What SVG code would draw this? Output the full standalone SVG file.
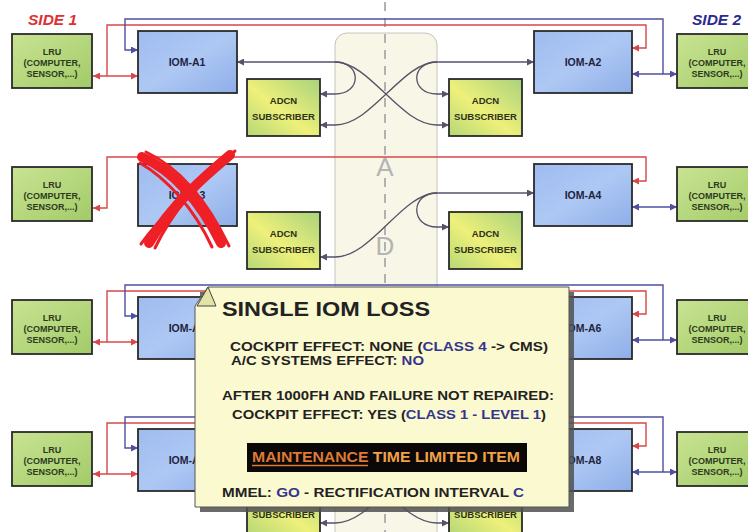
<svg xmlns="http://www.w3.org/2000/svg" width="748" height="532" viewBox="0 0 748 532">
<defs>
<style>
.t{font-family:"Liberation Sans",Arial,sans-serif;font-weight:bold;}
.box{stroke:#2a2a2a;stroke-width:1.8;}
.lru{fill:url(#gLRU);}
.iom{fill:url(#gIOM);}
.adcn{fill:url(#gADCN);}
.lt{font-size:9px;fill:#2e3a20;text-anchor:middle;}
.it{font-size:10.5px;fill:#1e2440;text-anchor:middle;}
.at{font-size:9.5px;fill:#2e3218;text-anchor:middle;}
.r{fill:none;stroke:#d84848;stroke-width:1.4;}
.b{fill:none;stroke:#4f4fa0;stroke-width:1.4;}
.d{fill:none;stroke:#5a5068;stroke-width:1.3;}
.ct{fill:#222;}
.cb{fill:#35358c;}
</style>
<linearGradient id="gLRU" x1="0" y1="0" x2="1" y2="1">
<stop offset="0" stop-color="#c9e393"/><stop offset="1" stop-color="#a2cb68"/>
</linearGradient>
<linearGradient id="gIOM" x1="0" y1="0" x2="1" y2="1">
<stop offset="0" stop-color="#9fbcf0"/><stop offset="0.5" stop-color="#aec8f4"/><stop offset="1" stop-color="#8eaee8"/>
</linearGradient>
<linearGradient id="gADCN" x1="0" y1="1" x2="1" y2="0">
<stop offset="0" stop-color="#b6d777"/><stop offset="0.45" stop-color="#eef07a"/><stop offset="1" stop-color="#a9d27c"/>
</linearGradient>
<marker id="ar" viewBox="0 0 8 8" refX="8" refY="4" markerWidth="7" markerHeight="7" markerUnits="userSpaceOnUse" orient="auto-start-reverse"><path d="M0,0 L8,4 L0,8 z" fill="#d84848"/></marker>
<marker id="ab" viewBox="0 0 8 8" refX="8" refY="4" markerWidth="7" markerHeight="7" markerUnits="userSpaceOnUse" orient="auto-start-reverse"><path d="M0,0 L8,4 L0,8 z" fill="#4f4fa0"/></marker>
<marker id="ad" viewBox="0 0 8 8" refX="8" refY="4" markerWidth="7" markerHeight="7" markerUnits="userSpaceOnUse" orient="auto-start-reverse"><path d="M0,0 L8,4 L0,8 z" fill="#5a5068"/></marker>
</defs>
<rect width="748" height="532" fill="#ffffff"/>

<g id="center-panel">
<rect x="335" y="33" width="102" height="530" rx="12" fill="#f8f6e6" stroke="#c4c4bc" stroke-width="1"/>
<line x1="385" y1="2" x2="385" y2="532" stroke="#b2b2b2" stroke-width="2" stroke-dasharray="9 7"/>
<text class="t" x="385" y="176" font-size="26" fill="#b4b4b4" text-anchor="middle" stroke="#f8f6e6" stroke-width="4" paint-order="stroke" style="font-weight:normal">A</text>
<text class="t" x="385" y="255" font-size="26" fill="#b4b4b4" text-anchor="middle" stroke="#f8f6e6" stroke-width="4" paint-order="stroke" style="font-weight:normal">D</text>
</g>

<g id="connectors">
<!-- row 1 -->
<path class="r" d="M93,76 H138" marker-start="url(#ar)" marker-end="url(#ar)"/>
<path class="r" d="M107,76 V25 H646 V48 H632" marker-end="url(#ar)"/>
<path class="b" d="M632,74 H677" marker-start="url(#ab)" marker-end="url(#ab)"/>
<path class="b" d="M663,74 V19 H125 V50 H138" marker-end="url(#ab)"/>
<path class="d" d="M335,62 H237" marker-end="url(#ad)"/>
<path class="d" d="M335,62 C362,62 362,94 335,94 H320" marker-end="url(#ad)"/>
<path class="d" d="M335,62 C370,62 400,125 437,125 H449" marker-end="url(#ad)"/>
<path class="d" d="M437,62 H534" marker-end="url(#ad)"/>
<path class="d" d="M437,62 C410,62 410,94 437,94 H449" marker-end="url(#ad)"/>
<path class="d" d="M437,62 C402,62 372,125 335,125 H320" marker-end="url(#ad)"/>
<!-- row 2 -->
<path class="r" d="M93,208 H107 V157 H646 V181 H632" marker-start="url(#ar)" marker-end="url(#ar)"/>
<path class="b" d="M632,207 H677" marker-start="url(#ab)" marker-end="url(#ab)"/>
<path class="d" d="M437,193 H534" marker-end="url(#ad)"/>
<path class="d" d="M437,193 C410,193 410,227 437,227 H449" marker-end="url(#ad)"/>
<path class="d" d="M437,193 C402,193 372,257 335,257 H320" marker-end="url(#ad)"/>
<!-- row 3 -->
<path class="r" d="M93,342 H138" marker-start="url(#ar)" marker-end="url(#ar)"/>
<path class="r" d="M107,342 V291 H646 V314 H632" marker-end="url(#ar)"/>
<path class="b" d="M632,340 H677" marker-start="url(#ab)" marker-end="url(#ab)"/>
<path class="b" d="M663,340 V285 H125 V316 H138" marker-end="url(#ab)"/>
<!-- row 4 -->
<path class="r" d="M93,474 H138" marker-start="url(#ar)" marker-end="url(#ar)"/>
<path class="r" d="M107,474 V423 H646 V446 H632" marker-end="url(#ar)"/>
<path class="b" d="M632,472 H677" marker-start="url(#ab)" marker-end="url(#ab)"/>
<path class="b" d="M663,472 V417 H125 V448 H138" marker-end="url(#ab)"/>
<path class="d" d="M335,460 C362,460 362,492 335,492 H320" marker-end="url(#ad)"/>
<path class="d" d="M335,460 C370,460 400,523 437,523 H449" marker-end="url(#ad)"/>
<path class="d" d="M437,460 C410,460 410,492 437,492 H449" marker-end="url(#ad)"/>
<path class="d" d="M437,460 C402,460 372,523 335,523 H320" marker-end="url(#ad)"/>
</g>

<g id="lru-l1"><rect class="box lru" x="12" y="34" width="80" height="54"/><text class="t lt" x="52" y="55">LRU</text><text class="t lt" x="52" y="66">(COMPUTER,</text><text class="t lt" x="52" y="77">SENSOR,...)</text></g>
<g id="iom-a1"><rect class="box iom" x="138" y="31" width="99" height="62"/><text class="t it" x="187" y="66">IOM-A1</text></g>
<g id="adcn-l1"><rect class="box adcn" x="247" y="79" width="73" height="57"/><text class="t at" x="283.5" y="104">ADCN</text><text class="t at" x="283.5" y="120">SUBSCRIBER</text></g>
<g id="adcn-r1"><rect class="box adcn" x="449" y="79" width="73" height="57"/><text class="t at" x="485.5" y="104">ADCN</text><text class="t at" x="485.5" y="120">SUBSCRIBER</text></g>
<g id="iom-a2"><rect class="box iom" x="534" y="31" width="98" height="62"/><text class="t it" x="583" y="66">IOM-A2</text></g>
<g id="lru-r1"><rect class="box lru" x="677" y="34" width="80" height="54"/><text class="t lt" x="717" y="55">LRU</text><text class="t lt" x="717" y="66">(COMPUTER,</text><text class="t lt" x="717" y="77">SENSOR,...)</text></g>

<g id="lru-l2"><rect class="box lru" x="12" y="167" width="80" height="54"/><text class="t lt" x="52" y="188">LRU</text><text class="t lt" x="52" y="199">(COMPUTER,</text><text class="t lt" x="52" y="210">SENSOR,...)</text></g>
<g id="iom-a3"><rect class="box iom" x="138" y="164" width="99" height="62"/><text class="t it" x="187" y="199">IOM-A3</text></g>
<g id="adcn-l2"><rect class="box adcn" x="247" y="212" width="73" height="57"/><text class="t at" x="283.5" y="237">ADCN</text><text class="t at" x="283.5" y="253">SUBSCRIBER</text></g>
<g id="adcn-r2"><rect class="box adcn" x="449" y="212" width="73" height="57"/><text class="t at" x="485.5" y="237">ADCN</text><text class="t at" x="485.5" y="253">SUBSCRIBER</text></g>
<g id="iom-a4"><rect class="box iom" x="534" y="164" width="98" height="62"/><text class="t it" x="583" y="199">IOM-A4</text></g>
<g id="lru-r2"><rect class="box lru" x="677" y="167" width="80" height="54"/><text class="t lt" x="717" y="188">LRU</text><text class="t lt" x="717" y="199">(COMPUTER,</text><text class="t lt" x="717" y="210">SENSOR,...)</text></g>

<g id="lru-l3"><rect class="box lru" x="12" y="300" width="80" height="54"/><text class="t lt" x="52" y="321">LRU</text><text class="t lt" x="52" y="332">(COMPUTER,</text><text class="t lt" x="52" y="343">SENSOR,...)</text></g>
<g id="iom-a5"><rect class="box iom" x="138" y="297" width="99" height="62"/><text class="t it" x="187" y="332">IOM-A5</text></g>
<g id="iom-a6"><rect class="box iom" x="534" y="297" width="98" height="62"/><text class="t it" x="583" y="332">IOM-A6</text></g>
<g id="lru-r3"><rect class="box lru" x="677" y="300" width="80" height="54"/><text class="t lt" x="717" y="321">LRU</text><text class="t lt" x="717" y="332">(COMPUTER,</text><text class="t lt" x="717" y="343">SENSOR,...)</text></g>

<g id="lru-l4"><rect class="box lru" x="12" y="432" width="80" height="54"/><text class="t lt" x="52" y="453">LRU</text><text class="t lt" x="52" y="464">(COMPUTER,</text><text class="t lt" x="52" y="475">SENSOR,...)</text></g>
<g id="iom-a7"><rect class="box iom" x="138" y="429" width="99" height="62"/><text class="t it" x="187" y="464">IOM-A7</text></g>
<g id="adcn-l4"><rect class="box adcn" x="247" y="477" width="73" height="57"/><text class="t at" x="283.5" y="518">SUBSCRIBER</text></g>
<g id="adcn-r4"><rect class="box adcn" x="449" y="477" width="73" height="57"/><text class="t at" x="485.5" y="518">SUBSCRIBER</text></g>
<g id="iom-a8"><rect class="box iom" x="534" y="429" width="98" height="62"/><text class="t it" x="583" y="464">IOM-A8</text></g>
<g id="lru-r4"><rect class="box lru" x="677" y="432" width="80" height="54"/><text class="t lt" x="717" y="453">LRU</text><text class="t lt" x="717" y="464">(COMPUTER,</text><text class="t lt" x="717" y="475">SENSOR,...)</text></g>

<g id="failure-x" fill="none" stroke="#ee2026" stroke-linecap="round">
<path d="M142,157 C172,170 200,200 221,243" stroke-width="10"/>
<path d="M146,152 C176,166 205,196 229,246" stroke-width="3"/>
<path d="M140,163 C166,178 194,208 212,247" stroke-width="3"/>
<path d="M230,155 C206,175 171,205 149,243" stroke-width="10"/>
<path d="M235,151 C209,172 176,204 155,248" stroke-width="3"/>
<path d="M225,161 C199,182 164,212 141,244" stroke-width="3"/>
</g>

<text class="t" x="28" y="25" font-size="15.5" font-style="italic" fill="#e03030">SIDE 1</text>
<text class="t" x="692" y="25" font-size="15.5" font-style="italic" fill="#2a2a90">SIDE 2</text>

<g id="callout">
<rect x="200" y="292" width="374" height="220" fill="#505050" opacity="0.85"/>
<path d="M208,287 H569 V507 H195 V306 Z" fill="#fbf9d0" stroke="#555" stroke-width="1"/>
<path d="M208,287 L197,306 L216,306 Z" fill="#e2e4a6" stroke="#444" stroke-width="1"/>
<text class="t ct" x="222" y="316" font-size="21" textLength="208" lengthAdjust="spacingAndGlyphs">SINGLE IOM LOSS</text>
<text class="t ct" x="230" y="351" font-size="12.5" textLength="318" lengthAdjust="spacingAndGlyphs">COCKPIT EFFECT: NONE (<tspan class="cb">CLASS 4</tspan> -&gt; CMS)</text>
<text class="t ct" x="231" y="365" font-size="12.5" textLength="193" lengthAdjust="spacingAndGlyphs">A/C SYSTEMS EFFECT: <tspan class="cb">NO</tspan></text>
<text class="t ct" x="222" y="400" font-size="13" textLength="332" lengthAdjust="spacingAndGlyphs">AFTER 1000FH AND FAILURE NOT REPAIRED:</text>
<text class="t ct" x="232" y="419" font-size="13" textLength="314" lengthAdjust="spacingAndGlyphs">COCKPIT EFFECT: YES (<tspan class="cb">CLASS 1 - LEVEL 1</tspan>)</text>
<rect x="247" y="443" width="280" height="29" fill="#0c0808"/>
<text class="t" x="252" y="462" font-size="15" textLength="268" lengthAdjust="spacingAndGlyphs" fill="#efa24a"><tspan fill="#dc7a36">MAINTENANCE</tspan> TIME LIMITED ITEM</text>
<line x1="252" y1="465.5" x2="368" y2="465.5" stroke="#dc7a36" stroke-width="1.3"/>
<text class="t ct" x="222" y="497" font-size="13" textLength="302" lengthAdjust="spacingAndGlyphs">MMEL: <tspan class="cb">GO</tspan> - RECTIFICATION INTERVAL <tspan class="cb">C</tspan></text>
</g>
</svg>
